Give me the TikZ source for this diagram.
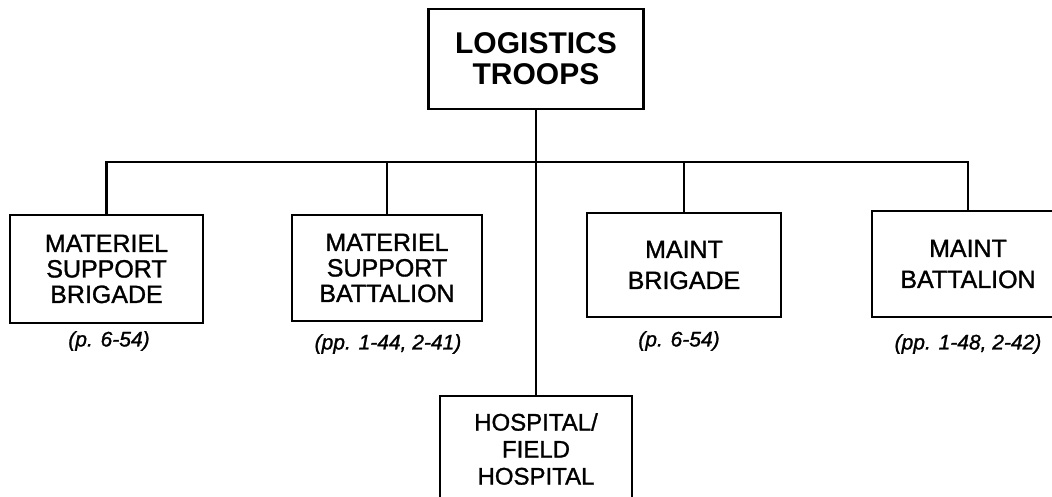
\documentclass[tikz,border=0pt]{standalone}
\usepackage{fontspec}
\setmainfont{Liberation Sans}
\newfontfamily\medfont[FakeBold=1.2]{Liberation Sans}
\begin{document}
\begin{tikzpicture}[x=1pt,y=-1pt,
  box/.style={draw,line width=2.6pt,inner sep=0pt,align=center},
  unitfont/.style={font=\medfont\fontsize{25}{25.5}\selectfont},
  maintfont/.style={font=\medfont\fontsize{25}{31}\selectfont},
  lbl/.style={inner sep=0pt,font=\medfont\fontsize{21}{21}\selectfont\itshape},
  conn/.style={line width=2.4pt}]
\useasboundingbox (0,0) rectangle (1052,497);
\clip (0,0) rectangle (1052,497);
\node[box,minimum width=215pt,minimum height=100pt,font=\fontsize{30}{31}\selectfont\bfseries] (top) at (536,59) {LOGISTICS\\TROOPS};
\node[box,unitfont,minimum width=193pt,minimum height=108pt] (b1) at (106.5,269) {MATERIEL\\SUPPORT\\BRIGADE};
\node[box,unitfont,minimum width=190pt,minimum height=106pt] (b2) at (387,268) {MATERIEL\\SUPPORT\\BATTALION};
\node[box,maintfont,minimum width=194pt,minimum height=104pt] (b3) at (684,265) {MAINT\\BRIGADE};
\node[box,maintfont,minimum width=192pt,minimum height=106pt] (b4) at (968,264) {MAINT\\BATTALION};
\node[box,font=\medfont\fontsize{24}{27}\selectfont,minimum width=192pt,minimum height=106pt] (hosp) at (536,449) {HOSPITAL/\\FIELD\\HOSPITAL};
\node[lbl] (l1) at (109,341) {(p. 6-54)};
\node[lbl] (l2) at (388,344) {(pp. 1-44, 2-41)};
\node[lbl] (l3) at (679,341) {(p. 6-54)};
\node[lbl] (l4) at (968,344) {(pp. 1-48, 2-42)};
\coordinate (busL) at (106.5,162);
\coordinate (busR) at (968,162);
\draw[conn] (top.south) -- (hosp.north);
\draw[conn] (b1.north) -- (busL) -- (busR) -- (b4.north);
\draw[conn] (b2.north) -- (b2.north |- busL);
\draw[conn] (b3.north) -- (b3.north |- busL);
\end{tikzpicture}
\end{document}
